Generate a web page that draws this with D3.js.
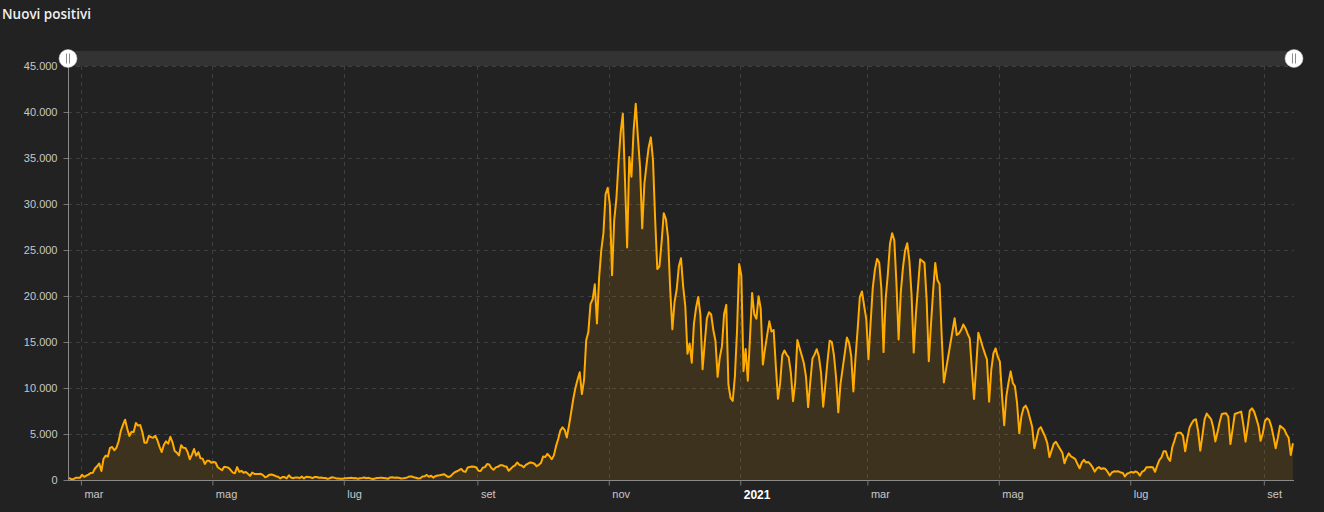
<!DOCTYPE html>
<html><head><meta charset="utf-8">
<script src="https://cdn.jsdelivr.net/npm/d3@7"></script>
<style>
html,body{margin:0;padding:0;background:#222222;}
svg{display:block;}
</style></head><body>
<svg id="chart" width="1324" height="512"></svg>
<script>
const seriesName = "Nuovi positivi";
const startDate = "2020-02-24";

const feb2020 = [221, 93, 78, 250, 238, 240];
const mar2020 = [566, 342, 466, 587, 769, 778, 1247, 1492, 1797, 977, 2313, 2651, 2547, 3497, 3590, 3233, 3526, 4207, 5322, 5986, 6557, 5560, 4789, 5249, 5210, 6203, 5909, 5974, 5217, 4050, 4053];
const apr2020 = [4782, 4668, 4585, 4805, 4316, 3599, 3039, 3836, 4204, 3951, 4694, 4092, 3153, 2972, 2667, 3786, 3493, 3491, 3047, 2256, 2729, 3370, 2646, 3021, 2357, 2324, 1739, 2091, 2086, 1872];
const may2020 = [1965, 1900, 1389, 1221, 1075, 1444, 1401, 1327, 1083, 802, 744, 1402, 888, 992, 789, 875, 675, 451, 813, 665, 642, 652, 669, 531, 300, 397, 584, 593, 516, 416, 355];
const jun2020 = [178, 318, 321, 177, 518, 270, 197, 280, 283, 202, 379, 163, 346, 338, 301, 210, 329, 333, 251, 262, 224, 218, 122, 190, 296, 259, 175, 174, 126, 142];
const jul2020 = [182, 201, 223, 235, 192, 208, 138, 193, 229, 276, 188, 234, 169, 114, 162, 230, 233, 249, 218, 190, 129, 282, 306, 252, 275, 255, 170, 181, 212, 289, 386];
const aug2020 = [379, 295, 239, 159, 190, 384, 402, 552, 347, 463, 259, 412, 481, 523, 574, 629, 479, 320, 403, 642, 845, 947, 1071, 1210, 953, 878, 1367, 1411, 1460, 1444, 1365];
const sep2020 = [996, 975, 1326, 1397, 1733, 1695, 1297, 1108, 1370, 1434, 1597, 1616, 1501, 1458, 1008, 1229, 1452, 1585, 1907, 1638, 1587, 1392, 1640, 1786, 1912, 1869, 1766, 1494, 1648, 1851];
const oct2020 = [2548, 2499, 2844, 2578, 2257, 2677, 3678, 4458, 5372, 5724, 5456, 4619, 5901, 7332, 8804, 10010, 10925, 11705, 9338, 10874, 15199, 16079, 19143, 19644, 21273, 17012, 21994, 24991, 26831, 31084, 31758];
const nov2020 = [29907, 22253, 28244, 30550, 34505, 37809, 39811, 32616, 25271, 35098, 32961, 37978, 40902, 37255, 33979, 27354, 32191, 34283, 36176, 37242, 34767, 28337, 22930, 23232, 25853, 29003, 28352, 26323, 20648, 16377];
const dec2020 = [19350, 20709, 23225, 24099, 21052, 18887, 13720, 14842, 12756, 16999, 18727, 19903, 17938, 12030, 14844, 17572, 18236, 17992, 16300, 15104, 11212, 13318, 14522, 18040, 19037, 10407, 8913, 8585, 11224, 16202, 23477];
const jan2021 = [22211, 11831, 14245, 10800, 15378, 20331, 18020, 17533, 19978, 18627, 12545, 14242, 15774, 17246, 16146, 16310, 12415, 8824, 10497, 13571, 14078, 13633, 13331, 11629, 8561, 10593, 15204, 14372, 13574, 12715, 11252];
const feb2021 = [7925, 10630, 13189, 13659, 14218, 13442, 11641, 7970, 10404, 12956, 15146, 14999, 13532, 11068, 7351, 10386, 12074, 13762, 15479, 14931, 13452, 9630, 13314, 16424, 19886, 20499, 18916, 17455];
const mar2021 = [13114, 17083, 20884, 22865, 24036, 23641, 20765, 13902, 19749, 22409, 25673, 26824, 26062, 21315, 15267, 20396, 23059, 24935, 25735, 23832, 20159, 13846, 18000, 21000, 23990, 23800, 23600, 19611, 12916, 16850, 20470];
const apr2021 = [23600, 21740, 21300, 15600, 10600, 12000, 13400, 14800, 16200, 17580, 15760, 15940, 16300, 16900, 16500, 15900, 15400, 12000, 8800, 12320, 16000, 15300, 14490, 13770, 13100, 8510, 11960, 13770, 14310, 13400];
const may2021 = [12860, 9148, 5948, 9116, 10585, 11807, 10554, 10176, 8292, 5080, 6946, 7852, 8085, 7567, 6659, 5753, 3455, 4452, 5506, 5741, 5218, 4717, 3995, 2490, 3224, 3937, 4147, 3738, 3351, 2949, 1820];
const jun2021 = [2483, 2897, 2557, 2436, 2275, 1735, 1273, 1896, 2199, 1901, 1951, 1723, 1390, 907, 1255, 1400, 1197, 1279, 1197, 881, 495, 835, 948, 927, 951, 818, 778, 389, 679, 776];
const jul2021 = [882, 794, 932, 808, 480, 907, 1010, 1394, 1390, 1400, 1391, 888, 1554, 2153, 2455, 3121, 3127, 2400, 2072, 3558, 4259, 5057, 5143, 5140, 4794, 3117, 4522, 5696, 6171, 6513, 6599];
const aug2021 = [5321, 3190, 4845, 6596, 7230, 6902, 6619, 5735, 4197, 5180, 6300, 7170, 7230, 7250, 6880, 3900, 5500, 7170, 7260, 7350, 7430, 6000, 4170, 5800, 7540, 7790, 7430, 6700, 5900, 4257, 5050];
const sep2021 = [6400, 6710, 6520, 5800, 4700, 3450, 4600, 5900, 5700, 5500, 4970, 4600, 2720, 3990];

const monthlyValues = [feb2020, mar2020, apr2020, may2020, jun2020, jul2020, aug2020, sep2020, oct2020, nov2020, dec2020,
  jan2021, feb2021, mar2021, apr2021, may2021, jun2021, jul2021, aug2021, sep2021];

const yTickValues = [0, 5000, 10000, 15000, 20000, 25000, 30000, 35000, 40000, 45000];
const xTickDates = ["2020-03-01", "2020-05-01", "2020-07-01", "2020-09-01", "2020-11-01", "2021-01-01",
  "2021-03-01", "2021-05-01", "2021-07-01", "2021-09-01"];
const monthNames = ["gen", "feb", "mar", "apr", "mag", "giu", "lug", "ago", "set", "ott", "nov", "dic"];

// ---- build ----
const values = monthlyValues.flat();
const parseDay = d3.utcParse("%Y-%m-%d");
const t0 = parseDay(startDate);
const data = values.map((v, i) => ({ date: d3.utcHour.offset(d3.utcDay.offset(t0, i), 12), value: v }));

const plotL = 68, plotR = 1294, plotT = 66, plotB = 480;

const svg = d3.select("#chart");
const itLocale = d3.formatLocale({ decimal: ",", thousands: ".", grouping: [3], currency: ["€", ""] });
const fmt = itLocale.format(",d");

const x = d3.scaleUtc().domain([t0, d3.utcDay.offset(t0, values.length)]).range([plotL, plotR]);
const y = d3.scaleLinear().domain([0, 45000]).range([plotB, plotT]);

const xTicks = xTickDates.map(parseDay);

// title
svg.append("text").attr("x", 2).attr("y", 19)
  .attr("fill", "#f0f0f0").attr("font-family", "'Open Sans', sans-serif")
  .attr("font-weight", 600).attr("font-size", 13.5).text(seriesName);

// grid
const grid = svg.append("g");
grid.selectAll(".hg").data(yTickValues.filter(d => d > 0)).join("line")
  .attr("x1", plotL).attr("x2", plotR)
  .attr("y1", d => Math.round(y(d)) + 0.5).attr("y2", d => Math.round(y(d)) + 0.5)
  .attr("stroke", "#3e3e3e").attr("stroke-dasharray", "4,4");
grid.selectAll(".vg").data(xTicks).join("line")
  .attr("x1", d => Math.round(x(d)) + 0.5).attr("x2", d => Math.round(x(d)) + 0.5)
  .attr("y1", plotT).attr("y2", plotB)
  .attr("stroke", "#3e3e3e").attr("stroke-dasharray", "4,4");

// area + line
const area = d3.area().x(d => x(d.date)).y0(y(0)).y1(d => y(d.value));
const line = d3.line().x(d => x(d.date)).y(d => y(d.value));
svg.append("path").datum(data).attr("d", area).attr("fill", "rgba(255,171,0,0.12)");
svg.append("path").datum(data).attr("d", line).attr("fill", "none")
  .attr("stroke", "#ffab00").attr("stroke-width", 2).attr("stroke-linejoin", "round");

// y axis
const yAxis = d3.axisLeft(y).tickValues(yTickValues).tickFormat(fmt).tickSize(5).tickPadding(6);
const gy = svg.append("g").attr("transform", `translate(${plotL + 0.5},0)`).call(yAxis);
gy.select(".domain").remove();
gy.selectAll(".tick line").attr("stroke", "#777");
gy.selectAll(".tick text").attr("fill", "#c8c8c8").attr("font-size", 11)
  .attr("font-family", "'Liberation Sans', Arial, sans-serif");
svg.append("line").attr("x1", plotL + 0.5).attr("x2", plotL + 0.5).attr("y1", 58).attr("y2", plotB)
  .attr("stroke", "#8a8a8a");

// x axis
const xAxis = d3.axisBottom(x).tickValues(xTicks).tickSize(5)
  .tickFormat(d => d.getUTCMonth() === 0 ? String(d.getUTCFullYear()) : monthNames[d.getUTCMonth()]);
const gx = svg.append("g").attr("transform", `translate(0,${plotB + 0.5})`).call(xAxis);
gx.select(".domain").attr("stroke", "#8a8a8a").attr("d", `M${plotL},0H${plotR}`);
gx.selectAll(".tick line").attr("stroke", "#777");
gx.selectAll(".tick text")
  .attr("text-anchor", "start").attr("x", 3).attr("y", 10)
  .attr("fill", d => d.getUTCMonth() === 0 ? "#ffffff" : "#c8c8c8")
  .attr("font-weight", d => d.getUTCMonth() === 0 ? "bold" : "normal")
  .attr("font-size", d => d.getUTCMonth() === 0 ? 12 : 11)
  .attr("font-family", "'Liberation Sans', Arial, sans-serif");

// slider (zoom bar)
svg.append("rect").attr("x", plotL).attr("y", 51).attr("width", plotR - plotL).attr("height", 15).attr("fill", "#333333");
const handles = svg.append("g").selectAll("g").data(x.range()).join("g").attr("transform", d => `translate(${d},58.5)`);
handles.append("circle").attr("r", 9).attr("fill", "#ffffff").attr("stroke", "#cccccc").attr("stroke-width", 0.5);
handles.append("line").attr("x1", -1.5).attr("x2", -1.5).attr("y1", -5).attr("y2", 5).attr("stroke", "#8a8a8a");
handles.append("line").attr("x1", 1.5).attr("x2", 1.5).attr("y1", -5).attr("y2", 5).attr("stroke", "#8a8a8a");
</script>
</body></html>
